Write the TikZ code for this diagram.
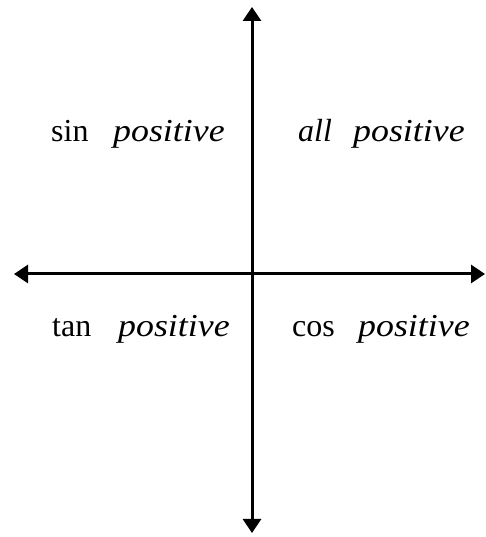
\documentclass[tikz,border=0pt]{standalone}
\usepackage{fontspec}
\setmainfont{Liberation Serif}
\usetikzlibrary{arrows.meta}
\newcommand{\posword}{\scalebox{1.12}[1]{\textit{positive}}}
\begin{document}
\begin{tikzpicture}[x=1pt,y=1pt,
  axis/.style={line width=3pt,{Triangle[length=14pt,width=18pt]}-{Triangle[length=14pt,width=18pt]}},
  lbl/.style={anchor=base west,inner sep=0pt,font=\fontsize{32}{38}\selectfont}]
\useasboundingbox (0,0) rectangle (486,537);
\coordinate (L) at (14,263);
\coordinate (R) at (485,263);
\coordinate (T) at (252,530);
\coordinate (B) at (252,4);
\draw[axis] (L) -- (R);
\draw[axis] (B) -- (T);
\node[lbl] (sin) at (51,395) {sin};
\node[lbl] (sinp) at (113,395) {\posword};
\node[lbl] (all) at (298,395) {\textit{all}};
\node[lbl] (allp) at (353,395) {\posword};
\node[lbl] (tan) at (52,200) {tan};
\node[lbl] (tanp) at (118,200) {\posword};
\node[lbl] (cos) at (292,200) {cos};
\node[lbl] (cosp) at (358,200) {\posword};
\end{tikzpicture}
\end{document}
